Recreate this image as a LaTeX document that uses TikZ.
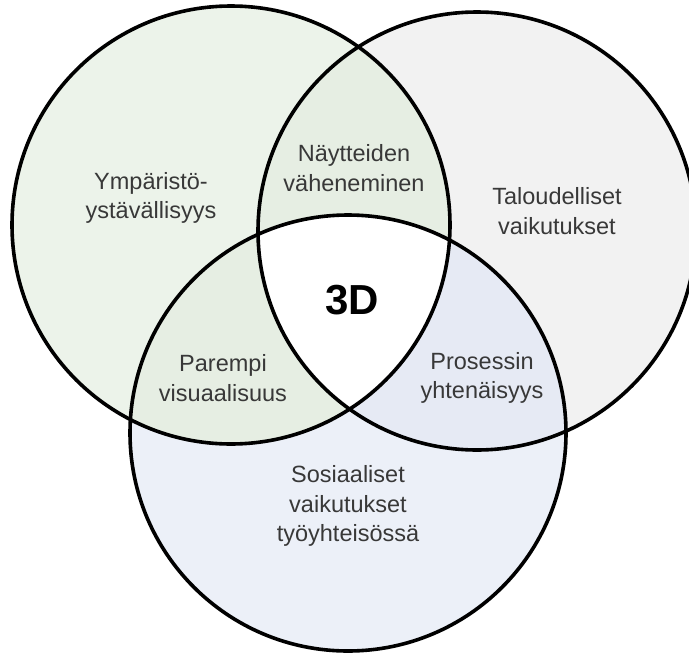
\documentclass[tikz,border=0pt]{standalone}
\usepackage{fontspec}
\setmainfont{Liberation Sans}
\definecolor{envgreen}{HTML}{ECF3EA}
\definecolor{econgray}{HTML}{F2F2F2}
\definecolor{socblue}{HTML}{ECF0F8}
\definecolor{greenlap}{HTML}{E6EEE3}
\definecolor{bluelap}{HTML}{E6EAF4}
\definecolor{labeltext}{HTML}{383838}
\begin{document}
\begin{tikzpicture}[x=1pt,y=-1pt,
  lbl/.style={font=\fontsize{23.5}{29.5}\selectfont, text=labeltext, align=center, inner sep=0pt},
  core/.style={font=\fontsize{42}{46}\selectfont\bfseries, text=black, inner sep=0pt},
  ring/.style={draw=black, line width=3.6pt}]
\useasboundingbox (0,0) rectangle (689,654);
\clip (0,0) rectangle (689,654);

% circle centres
\coordinate (L) at (231,225);
\coordinate (R) at (477,231);
\coordinate (B) at (348,433);

% base fills
\fill[econgray] (R) circle[radius=219pt];
\fill[envgreen] (L) circle[radius=219pt];
\fill[socblue]  (B) circle[radius=218pt];

% overlaps with the environment circle
\begin{scope}
  \clip (L) circle[radius=219pt];
  \fill[greenlap] (R) circle[radius=219pt];
  \fill[greenlap] (B) circle[radius=218pt];
\end{scope}

% overlap of economic and social circles, and the common centre
\begin{scope}
  \clip (R) circle[radius=219pt];
  \fill[bluelap] (B) circle[radius=218pt];
  \clip (L) circle[radius=219pt];
  \fill[white] (B) circle[radius=218pt];
\end{scope}

% outlines
\draw[ring] (L) circle[radius=219pt];
\draw[ring] (R) circle[radius=219pt];
\draw[ring] (B) circle[radius=218pt];

% labels
\node[lbl] (env)   at (151,198) {Ympäristö-\\ystävällisyys};
\node[lbl] (samp)  at (354,168) {Näytteiden\\väheneminen};
\node[lbl] (econ)  at (557,211) {Taloudelliset\\vaikutukset};
\node[core] (td)   at (352,300) {3D};
\node[lbl] (vis)   at (223,378) {Parempi\\visuaalisuus};
\node[lbl] (proc)  at (482,378) {Prosessin\\yhtenäisyys};
\node[lbl] (soc)   at (348,506) {Sosiaaliset\\vaikutukset\\työyhteisössä};
\end{tikzpicture}
\end{document}
